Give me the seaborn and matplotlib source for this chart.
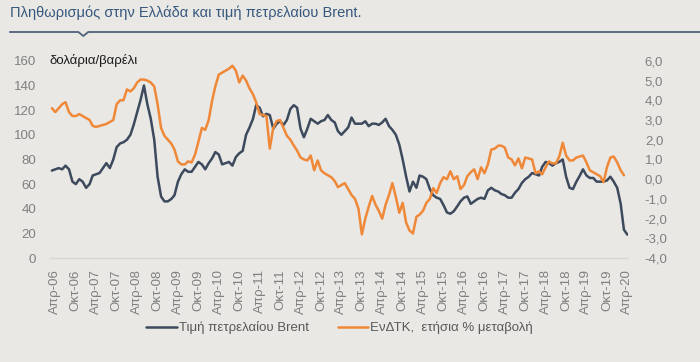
# Πληθωρισμός (ΕνΔΤΚ) και τιμή Brent, μηνιαία 2006-2020
import pandas as pd
import numpy as np
import matplotlib
matplotlib.use("Agg")
import matplotlib.pyplot as plt
import matplotlib.dates as mdates
from matplotlib.lines import Line2D
import seaborn as sns

# -------- DATA --------
START = "2006-03-01"

# Τιμή πετρελαίου Brent, δολάρια/βαρέλι (Μάρ-06 .. Απρ-20)
brent = [
    71,
    72, 73, 72, 75, 72, 62, 60, 64, 62,             # Apr-Dec 06
    57, 60, 67, 68, 69, 73, 77, 73, 80, 90, 93, 94,  # 07
    96, 100, 108, 118, 128, 140, 125, 113, 96, 66, 50, 46,  # 08
    46, 48, 51, 62, 68, 72, 70, 70, 74, 78, 76, 72,  # 09
    77, 81, 86, 84, 76, 77, 78, 75, 82, 85, 87, 100,  # 10
    106, 113, 124, 122, 115, 117, 116, 105, 109, 111, 108, 112,  # 11
    121, 124, 122, 105, 98, 105, 113, 111, 109, 111, 112, 116,  # 12
    112, 110, 103, 100, 103, 106, 114, 109, 109, 109, 111, 107,  # 13
    109, 109, 108, 110, 113, 107, 104, 100, 92, 80, 66, 54,  # 14
    62, 57, 67, 66, 64, 56, 51, 49, 48, 43, 37, 36,  # 15
    38, 42, 46, 49, 50, 44, 46, 48, 49, 48, 55, 57,  # 16
    55, 54, 52, 51, 49, 49, 53, 56, 61, 64, 66, 69,  # 17
    68, 67, 74, 78, 77, 75, 77, 78, 80, 66, 57, 56,  # 18
    62, 67, 72, 67, 65, 65, 62, 62, 62, 63, 66, 62,  # 19
    57, 44, 23, 19,                                  # Jan-Apr 20
]

# ΕνΔΤΚ, ετήσια % μεταβολή (Μάρ-06 .. Μάρ-20)
hicp = [
    3.6,
    3.4, 3.6, 3.8, 3.9, 3.4, 3.2, 3.2, 3.3, 3.2,
    3.1, 3.0, 2.7, 2.65, 2.7, 2.75, 2.8, 2.9, 3.0, 3.8, 4.0, 4.0,
    4.55, 4.45, 4.6, 4.9, 5.05, 5.05, 5.0, 4.9, 4.7, 3.8, 2.6, 2.2,
    2.0, 1.8, 1.5, 0.9, 0.75, 0.75, 0.9, 0.85, 1.25, 1.9, 2.6, 2.5,
    3.0, 4.0, 4.7, 5.3, 5.4, 5.5, 5.6, 5.75, 5.5, 4.9, 5.25, 5.0,
    4.6, 4.3, 3.9, 3.3, 3.25, 3.2, 1.55, 2.6, 2.95, 3.0, 2.6, 2.2,
    2.0, 1.7, 1.45, 1.1, 1.0, 0.95, 1.2, 0.45, 0.95, 0.45, 0.3, 0.2,
    0.1, -0.1, -0.4, -0.3, -0.2, -0.5, -0.8, -1.0, -1.5, -2.8, -2.0, -1.4,
    -0.85, -1.3, -1.6, -2.0, -1.3, -0.8, -0.2, -0.9, -1.7, -1.2, -2.2, -2.6,
    -2.75, -1.9, -1.8, -1.6, -1.2, -1.0, -0.45, -0.7, -0.2, 0.1, 0.0, 0.4,
    0.0, 0.15, -0.5, -0.3, 0.15, 0.35, 0.5, 0.0, 0.6, 0.3, 0.75, 1.5,
    1.55, 1.7, 1.7, 1.6, 1.1, 1.0, 0.7, 1.05, 0.55, 1.1, 1.05, 1.0,
    0.3, 0.4, 0.25, 0.6, 0.9, 0.8, 0.8, 1.15, 1.85, 1.2, 0.95, 0.95,
    1.1, 1.15, 1.2, 0.85, 0.45, 0.35, 0.25, 0.15, -0.15, 0.6, 1.1, 1.15,
    0.85, 0.45, 0.2,
]

years = list(range(2006, 2021))
months_gr = ["Απρ", "Οκτ"]

TITLE = "Πληθωρισμός στην Ελλάδα και τιμή πετρελαίου Brent."
UNIT = "δολάρια/βαρέλι"
LBL_BRENT = "Τιμή πετρελαίου Brent"
LBL_HICP = "ΕνΔΤΚ,  ετήσια % μεταβολή"

# -------- SETTINGS --------
BG = "#e9e8e4"
BLUE = "#3d4a5d"
ORANGE = "#ef8838"
GREY = "#7f7f7f"

sns.set_theme(style="white")
plt.rcParams["font.family"] = ["Liberation Sans", "DejaVu Sans"]
plt.rcParams["figure.facecolor"] = BG
plt.rcParams["axes.facecolor"] = BG

df_b = pd.DataFrame({
    "date": pd.date_range(START, periods=len(brent), freq="MS"),
    "value": brent,
})
df_h = pd.DataFrame({
    "date": pd.date_range(START, periods=len(hicp), freq="MS"),
    "value": hicp,
})

fig = plt.figure(figsize=(7.0, 3.62), dpi=100)
ax = fig.add_axes([0.0714, 0.287, 0.826, 0.545])
ax2 = ax.twinx()

sns.lineplot(data=df_b, x="date", y="value", ax=ax, color=BLUE, linewidth=1.8)
sns.lineplot(data=df_h, x="date", y="value", ax=ax2, color=ORANGE, linewidth=1.8)

ax.set_xlim(pd.Timestamp("2006-02-12"), pd.Timestamp("2020-04-08"))
ax.set_ylim(0, 160)
ax2.set_ylim(-4, 6)
ax.set_yticks(range(0, 161, 20))
ax2.set_yticks(range(-4, 7))
ax2.set_yticklabels([f"{v:.1f}".replace(".", ",") for v in range(-4, 7)])

# x ticks: Απρ / Οκτ of each year
tick_dates, tick_labels = [], []
for y in years:
    for mn, name in zip([4, 10], months_gr):
        d = pd.Timestamp(year=y, month=mn, day=1)
        if d <= pd.Timestamp("2020-04-01"):
            tick_dates.append(d)
            tick_labels.append(f"{name}-{str(y)[2:]}")
ax.set_xticks(tick_dates)
ax.set_xticklabels(tick_labels, rotation=90)

for a in (ax, ax2):
    a.set_xlabel("")
    a.set_ylabel("")
    for s in a.spines.values():
        s.set_visible(False)
    a.tick_params(length=0, labelsize=9.5, labelcolor=GREY)
ax.tick_params(axis="y", pad=10)
ax2.tick_params(axis="y", pad=12)
ax.tick_params(axis="x", pad=8)
ax.spines["bottom"].set_visible(True)
ax.spines["bottom"].set_color("#d6d6d2")
ax.spines["bottom"].set_linewidth(1.0)

ax.text(0.0, 160, UNIT, transform=ax.get_yaxis_transform(),
        ha="left", va="center", fontsize=9.5, color="#1a1a1a")

# legend
handles = [Line2D([], [], color=BLUE, linewidth=1.8),
           Line2D([], [], color=ORANGE, linewidth=1.8)]
fig.legend(handles, [LBL_BRENT, LBL_HICP], loc="center",
           bbox_to_anchor=(0.485, 0.094), ncol=2, frameon=False,
           fontsize=9.5, labelcolor="#595959", handlelength=2.3,
           handletextpad=0.15, columnspacing=2.2)

# title and separator
fig.text(0.014, 0.965, TITLE, ha="left", va="center", fontsize=10.5, color="#36587e")
sep_y = 1 - 32 / 362
notch = 4 / 362
fig.add_artist(Line2D([0.014, 0.112, 0.119, 0.126, 1.0],
                      [sep_y, sep_y, sep_y - notch, sep_y, sep_y],
                      color="#4e617b", linewidth=1.3))

fig.savefig("out.png", dpi=100, facecolor=BG)
